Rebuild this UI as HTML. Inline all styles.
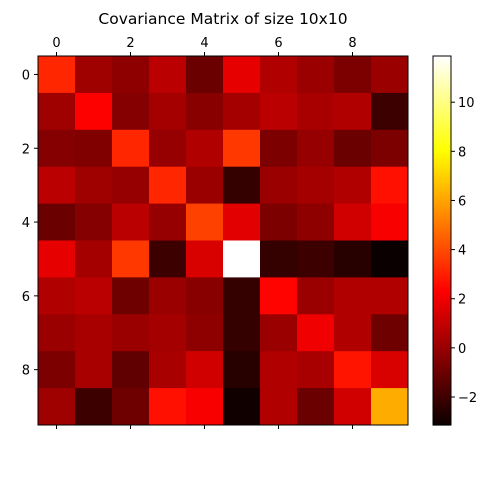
<!DOCTYPE html>
<html><head><meta charset="utf-8"><style>
body{margin:0;background:#fff}
text{font-family:"DejaVu Sans","Liberation Sans",sans-serif;font-size:13px;fill:#000}
</style></head><body>
<svg id="chart" width="489" height="489" viewBox="0 0 489 489" xmlns="http://www.w3.org/2000/svg">
<rect width="489" height="489" fill="#fff"/>
<text x="223" y="24" text-anchor="middle" style="font-size:15.5px">Covariance Matrix of size 10x10</text>
<g id="cells"></g>
<g id="axes"></g>
<g id="cbar"></g>
</svg>
<script>
const rowLabels = [0,1,2,3,4,5,6,7,8,9];
const colLabels = [0,1,2,3,4,5,6,7,8,9];
const tickLabels = [0,2,4,6,8];
const cbarTicks = [-2,0,2,4,6,8,10];
const row0 = [3.2,0.2,-0.2,0.8,-1.0,1.8,0.6,0.1,-0.6,0.1];
const row1 = [0.2,2.3,-0.4,0.3,-0.3,0.3,0.8,0.4,0.6,-2.0];
const row2 = [-0.4,-0.5,3.2,0.0,0.6,3.6,-0.6,0.0,-1.0,-0.6];
const row3 = [0.8,0.2,0.0,3.2,0.1,-2.2,0.1,0.3,0.6,2.7];
const row4 = [-1.0,-0.4,0.8,0.0,3.8,1.7,-0.6,-0.2,1.3,2.2];
const row5 = [1.8,0.3,3.6,-2.0,1.5,11.88,-2.2,-2.0,-2.5,-3.14];
const row6 = [0.6,0.8,-0.9,0.1,-0.3,-2.2,2.4,0.1,0.6,0.6];
const row7 = [0.1,0.4,0.1,0.3,-0.2,-2.2,0.1,2.0,0.6,-0.9];
const row8 = [-0.6,0.4,-1.2,0.4,1.3,-2.5,0.6,0.4,2.8,1.5];
const row9 = [0.2,-2.0,-0.9,2.7,2.2,-3.0,0.6,-1.0,1.3,6.2];
const matrix = [row0,row1,row2,row3,row4,row5,row6,row7,row8,row9];

const NS="http://www.w3.org/2000/svg";
const L=38,T=56,W=370,H=369;
const all=matrix.flat();
const vmin=Math.min(...all), vmax=Math.max(...all);
function hot(v){
  let x=(v-vmin)/(vmax-vmin); x=Math.max(0,Math.min(1,x));
  let r=x<0.365?0.0416+(1-0.0416)*x/0.365:1;
  let g=x<0.365?0:(x<0.746?(x-0.365)/0.381:1);
  let b=x<0.746?0:(x-0.746)/0.254;
  return `rgb(${Math.round(r*255)},${Math.round(g*255)},${Math.round(Math.min(1,b)*255)})`;
}
const n=colLabels.length, cw=W/n, ch=H/rowLabels.length;
const xc=i=>L+(i+0.5)*cw, yc=i=>T+(i+0.5)*ch;
function mk(tag,attrs,parent){const e=document.createElementNS(NS,tag);for(const k in attrs)e.setAttribute(k,attrs[k]);parent.appendChild(e);return e;}
const cells=document.getElementById('cells');
matrix.forEach((row,r)=>row.forEach((v,c)=>{
  const e=mk('rect',{x:L+c*cw,y:T+r*ch,width:cw+0.5,height:ch+0.5,fill:hot(v)},cells);
  
  
}));
const ax=document.getElementById('axes');
const fr=mk('rect',{x:L,y:T,width:W,height:H,fill:'none',stroke:'#000','stroke-width':1},ax);


tickLabels.forEach(t=>{
  mk('line',{x1:xc(t),x2:xc(t),y1:T,y2:T-4,stroke:'#000'},ax);
  mk('line',{x1:xc(t),x2:xc(t),y1:T+H,y2:T+H+4,stroke:'#000'},ax);
  const tx=mk('text',{x:xc(t),y:T-9,'text-anchor':'middle'},ax);tx.textContent=t;
  
  
  mk('line',{x1:L,x2:L-4,y1:yc(t),y2:yc(t),stroke:'#000'},ax);
  const ty=mk('text',{x:L-8,y:yc(t)+5,'text-anchor':'end'},ax);ty.textContent=t;
  
  
});
const cb=document.getElementById('cbar');
const CX=433,CW=18;
const cy=v=>T+H-(v-vmin)/(vmax-vmin)*H;
for(let i=0;i<200;i++){
  const v0=vmin+(vmax-vmin)*i/200, v1=vmin+(vmax-vmin)*(i+1)/200;
  mk('rect',{x:CX,y:cy(v1),width:CW,height:cy(v0)-cy(v1)+0.6,fill:hot((v0+v1)/2)},cb);
}
mk('rect',{x:CX,y:T,width:CW,height:H,fill:'none',stroke:'#000'},cb);
cbarTicks.forEach(t=>{
  mk('line',{x1:CX+CW,x2:CX+CW+4,y1:cy(t),y2:cy(t),stroke:'#000'},cb);
  const e=mk('text',{x:CX+CW+7,y:cy(t)+5},cb);e.textContent=t<0?'\u2212'+(-t):t;
  
  
});
</script>
</body></html>
